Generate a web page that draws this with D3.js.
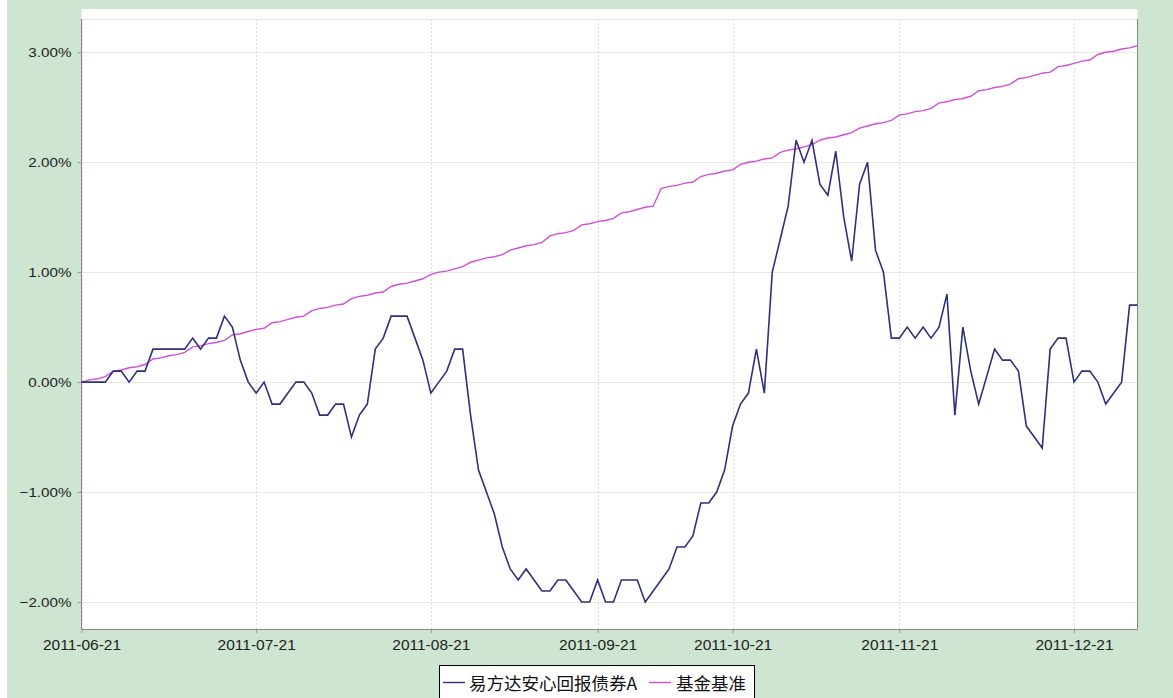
<!DOCTYPE html>
<html><head><meta charset="utf-8">
<script src="https://cdn.jsdelivr.net/npm/d3@7"></script>
<style>html,body{margin:0;padding:0;background:#fff;}svg{display:block;}</style>
</head><body>
<svg id="chart" width="1173" height="698"></svg>
<script>
const dates = ["2011-06-21","2011-06-22","2011-06-23","2011-06-24","2011-06-27","2011-06-28","2011-06-29","2011-06-30","2011-07-01",
"2011-07-04","2011-07-05","2011-07-06","2011-07-07","2011-07-08","2011-07-11","2011-07-12","2011-07-13","2011-07-14","2011-07-15",
"2011-07-18","2011-07-19","2011-07-20","2011-07-21","2011-07-22","2011-07-25","2011-07-26","2011-07-27","2011-07-28","2011-07-29",
"2011-08-01","2011-08-02","2011-08-03","2011-08-04","2011-08-05","2011-08-08","2011-08-09","2011-08-10","2011-08-11","2011-08-12",
"2011-08-15","2011-08-16","2011-08-17","2011-08-18","2011-08-19","2011-08-22","2011-08-23","2011-08-24","2011-08-25","2011-08-26",
"2011-08-29","2011-08-30","2011-08-31","2011-09-01","2011-09-02","2011-09-05","2011-09-06","2011-09-07","2011-09-08","2011-09-09",
"2011-09-13","2011-09-14","2011-09-15","2011-09-16","2011-09-19","2011-09-20","2011-09-21","2011-09-22","2011-09-23",
"2011-09-26","2011-09-27","2011-09-28","2011-09-29","2011-09-30","2011-10-10","2011-10-11","2011-10-12","2011-10-13","2011-10-14",
"2011-10-17","2011-10-18","2011-10-19","2011-10-20","2011-10-21","2011-10-24","2011-10-25","2011-10-26","2011-10-27","2011-10-28",
"2011-10-31","2011-11-01","2011-11-02","2011-11-03","2011-11-04","2011-11-07","2011-11-08","2011-11-09","2011-11-10","2011-11-11",
"2011-11-14","2011-11-15","2011-11-16","2011-11-17","2011-11-18","2011-11-21","2011-11-22","2011-11-23","2011-11-24","2011-11-25",
"2011-11-28","2011-11-29","2011-11-30","2011-12-01","2011-12-02","2011-12-05","2011-12-06","2011-12-07","2011-12-08","2011-12-09",
"2011-12-12","2011-12-13","2011-12-14","2011-12-15","2011-12-16","2011-12-19","2011-12-20","2011-12-21","2011-12-22","2011-12-23",
"2011-12-26","2011-12-27","2011-12-28","2011-12-29","2011-12-30","2011-12-31"];

const fundReturn = [0.0,0.0,0.0,0.0,0.1,0.1,0.0,0.1,0.1,
0.3,0.3,0.3,0.3,0.3,0.4,0.3,0.4,0.4,0.6,
0.5,0.2,0.0,-0.1,0.0,-0.2,-0.2,-0.1,0.0,0.0,
-0.1,-0.3,-0.3,-0.2,-0.2,-0.5,-0.3,-0.2,0.3,0.4,
0.6,0.6,0.6,0.4,0.2,-0.1,0.0,0.1,0.3,0.3,
-0.3,-0.8,-1.0,-1.2,-1.5,-1.7,-1.8,-1.7,-1.8,-1.9,
-1.9,-1.8,-1.8,-1.9,-2.0,-2.0,-1.8,-2.0,-2.0,
-1.8,-1.8,-1.8,-2.0,-1.9,-1.8,-1.7,-1.5,-1.5,-1.4,
-1.1,-1.1,-1.0,-0.8,-0.4,-0.2,-0.1,0.3,-0.1,1.0,
1.3,1.6,2.2,2.0,2.2,1.8,1.7,2.1,1.5,1.1,
1.8,2.0,1.2,1.0,0.4,0.4,0.5,0.4,0.5,0.4,
0.5,0.8,-0.3,0.5,0.1,-0.2,0.05,0.3,0.2,0.2,
0.1,-0.4,-0.5,-0.6,0.3,0.4,0.4,0.0,0.1,0.1,
0.0,-0.2,-0.1,0.0,0.7,0.7];

const benchmark = [0.00,0.02,0.03,0.05,0.10,0.11,0.13,0.14,0.16,
0.21,0.22,0.24,0.25,0.27,0.32,0.33,0.35,0.36,0.38,
0.43,0.44,0.46,0.48,0.49,0.54,0.55,0.57,0.59,0.60,
0.65,0.67,0.68,0.70,0.71,0.76,0.78,0.79,0.81,0.82,
0.87,0.89,0.90,0.92,0.94,0.98,1.00,1.01,1.03,1.05,
1.09,1.11,1.13,1.14,1.16,1.20,1.22,1.24,1.25,1.27,
1.33,1.35,1.36,1.38,1.43,1.44,1.46,1.47,1.49,
1.54,1.55,1.57,1.59,1.60,1.76,1.78,1.79,1.81,1.82,
1.87,1.89,1.90,1.92,1.93,1.98,2.00,2.01,2.03,2.04,
2.09,2.11,2.12,2.14,2.16,2.20,2.22,2.23,2.25,2.27,
2.31,2.33,2.35,2.36,2.38,2.43,2.44,2.46,2.47,2.49,
2.54,2.55,2.57,2.58,2.60,2.65,2.66,2.68,2.69,2.71,
2.76,2.77,2.79,2.81,2.82,2.87,2.88,2.90,2.92,2.93,
2.98,3.00,3.01,3.03,3.04,3.06];

const tickDates = ["2011-06-21","2011-07-21","2011-08-21","2011-09-21","2011-10-21","2011-11-21","2011-12-21"];
const yTicks = [-2, -1, 0, 1, 2, 3];
const seriesNames = ["易方达安心回报债券A", "基金基准"];
const seriesColors = ["#30307c", "#d24ed6"];

const W = 1173, H = 698;
const plot = {left: 81.5, right: 1137.5, top: 19, bottom: 629};
const svg = d3.select("#chart");

// background
svg.append("rect").attr("width", W).attr("height", H).attr("fill", "#cde5d1");
svg.append("rect").attr("x", 0).attr("y", 0).attr("width", 7).attr("height", H).attr("fill", "#ffffff");
svg.append("rect").attr("x", plot.left).attr("y", 9).attr("width", plot.right - plot.left).attr("height", plot.bottom - 9).attr("fill", "#ffffff");

const x = d3.scaleLinear().domain([0, dates.length - 1]).range([plot.left, plot.right]);
const y = d3.scaleLinear().domain([-2.246, 3.303]).range([plot.bottom, plot.top]);

const tickIdx = tickDates.map(t => d3.bisectLeft(dates, t));

// grid
const grid = svg.append("g");
grid.selectAll("line.h").data(yTicks).join("line").attr("class", "h")
  .attr("x1", plot.left).attr("x2", plot.right)
  .attr("y1", d => Math.round(y(d)) + 0.5).attr("y2", d => Math.round(y(d)) + 0.5)
  .attr("stroke", "#e8e8e8").attr("stroke-width", 1);
grid.selectAll("line.v").data(tickIdx).join("line").attr("class", "v")
  .attr("x1", d => Math.round(x(d)) + 0.5).attr("x2", d => Math.round(x(d)) + 0.5)
  .attr("y1", plot.top).attr("y2", plot.bottom)
  .attr("stroke", "#dcdcdc").attr("stroke-width", 1).attr("stroke-dasharray", "2,2");
svg.append("line").attr("x1", plot.left).attr("x2", plot.right).attr("y1", plot.top + 0.5).attr("y2", plot.top + 0.5)
  .attr("stroke", "#e4e4e4");

// axes
const yAxis = d3.axisLeft(y).tickValues(yTicks).tickFormat(d => d3.format(".2f")(d) + "%").tickSize(4).tickPadding(6);
const gy = svg.append("g").attr("transform", `translate(${plot.left},0)`).call(yAxis);
gy.select(".domain").remove();
gy.selectAll(".tick line").attr("stroke", "#999");
gy.selectAll(".tick text").attr("fill", "#222").style("font-family", "'Liberation Sans', Arial, sans-serif").style("font-size", "13px")
  .each(function(){ const w = this.getComputedTextLength(); d3.select(this).attr("textLength", w * 1.17).attr("lengthAdjust", "spacingAndGlyphs"); });

const xAxis = d3.axisBottom(x).tickValues(tickIdx).tickFormat((d, i) => tickDates[i]).tickSize(4).tickPadding(6);
const gx = svg.append("g").attr("transform", `translate(0,${plot.bottom})`).call(xAxis);
gx.select(".domain").remove();
gx.selectAll(".tick line").attr("stroke", "#999");
gx.selectAll(".tick text").attr("fill", "#222").style("font-family", "'Liberation Sans', Arial, sans-serif").style("font-size", "15.5px");

svg.append("line").attr("x1", plot.left).attr("x2", plot.left).attr("y1", plot.top).attr("y2", plot.bottom).attr("stroke", "#888");
svg.append("line").attr("x1", plot.right).attr("x2", plot.right).attr("y1", plot.top).attr("y2", plot.bottom).attr("stroke", "#888");
svg.append("line").attr("x1", plot.left).attr("x2", plot.right).attr("y1", plot.bottom + 0.5).attr("y2", plot.bottom + 0.5).attr("stroke", "#888");

// lines
const line = d3.line().x((d, i) => x(i)).y(d => y(d));
svg.append("path").datum(benchmark).attr("d", line).attr("fill", "none").attr("stroke", seriesColors[1]).attr("stroke-width", 1.4);
svg.append("path").datum(fundReturn).attr("d", line).attr("fill", "none").attr("stroke", seriesColors[0]).attr("stroke-width", 1.6).attr("stroke-linejoin", "miter");

// legend
const lg = svg.append("g");
lg.append("rect").attr("x", 439.5).attr("y", 665.5).attr("width", 315).attr("height", 40).attr("fill", "#fff").attr("stroke", "#000");
const items = [{lx: 443, tx: 469}, {lx: 649, tx: 676}];
items.forEach((it, i) => {
  lg.append("line").attr("x1", it.lx).attr("x2", it.lx + 22).attr("y1", 682.5).attr("y2", 682.5).attr("stroke", seriesColors[i]).attr("stroke-width", 1.4);
  lg.append("text").attr("x", it.tx).attr("y", 690).text(seriesNames[i])
    .style("font-family", "'Noto Sans CJK SC', sans-serif").style("font-size", "17.5px").attr("fill", "#111");
});
</script>
</body></html>
